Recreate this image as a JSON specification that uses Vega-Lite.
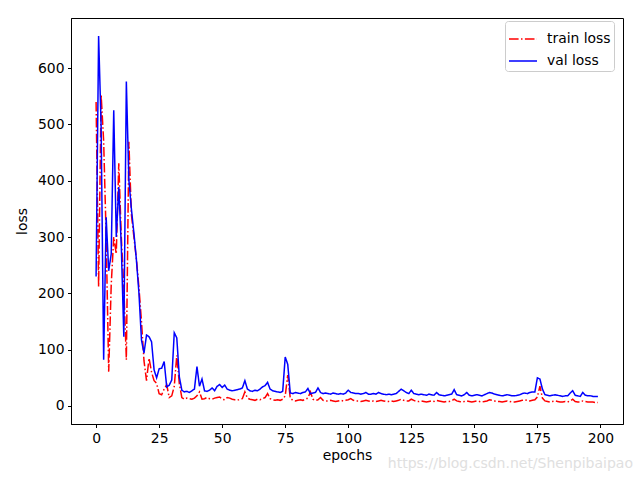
{
  "$schema": "https://vega.github.io/schema/vega-lite/v6.json",
  "width": 552,
  "height": 406,
  "autosize": {"type": "none"},
  "padding": {"left": 71, "top": 18, "right": 17, "bottom": 56},
  "background": "white",
  "title": {"text": "https://blog.csdn.net/Shenpibaipao", "orient": "bottom", "anchor": "end", "color": "#e0e0e0", "fontSize": 14, "font": "DejaVu Sans", "fontWeight": "normal", "offset": -6, "dx": 10},
  "config": {
    "font": "DejaVu Sans",
    "view": {"stroke": "black", "strokeWidth": 1},
    "axis": {"grid": false, "domainColor": "black", "tickColor": "black", "tickSize": 3.5, "labelPadding": 3.5, "labelFontSize": 13.9, "labelColor": "black", "titleFontSize": 13.9, "titleFontWeight": "normal", "titleColor": "black", "labelFont": "DejaVu Sans", "titleFont": "DejaVu Sans"},
    "legend": {"labelFontSize": 13.9, "labelFont": "DejaVu Sans", "labelColor": "black"}
  },
  "data": {"values": [
{"e":0,"train loss":540,"val loss":230},{"e":1,"train loss":212,"val loss":657},{"e":2,"train loss":553,"val loss":496},{"e":3,"train loss":470,"val loss":82},{"e":4,"train loss":300,"val loss":335},
{"e":5,"train loss":61,"val loss":240},{"e":6,"train loss":215,"val loss":270},{"e":7,"train loss":300,"val loss":525},{"e":8,"train loss":270,"val loss":300},{"e":9,"train loss":431,"val loss":389},
{"e":10,"train loss":300,"val loss":283},{"e":11,"train loss":210,"val loss":123},{"e":12,"train loss":82,"val loss":576},{"e":13,"train loss":469,"val loss":401},{"e":14,"train loss":340,"val loss":350},
{"e":15,"train loss":300,"val loss":307},{"e":16,"train loss":260,"val loss":259},{"e":17,"train loss":210,"val loss":200},{"e":18,"train loss":150,"val loss":117},{"e":19,"train loss":80,"val loss":94},
{"e":20,"train loss":45,"val loss":126},{"e":21,"train loss":85,"val loss":123},{"e":22,"train loss":60,"val loss":114},{"e":23,"train loss":45,"val loss":64},{"e":24,"train loss":40,"val loss":50},
{"e":25,"train loss":22,"val loss":66},{"e":26,"train loss":20,"val loss":67},{"e":27,"train loss":30,"val loss":79},{"e":28,"train loss":38,"val loss":34},{"e":29,"train loss":15,"val loss":37},
{"e":30,"train loss":18,"val loss":46},{"e":31,"train loss":35,"val loss":130},{"e":32,"train loss":90,"val loss":121},{"e":33,"train loss":40,"val loss":52},{"e":34,"train loss":15,"val loss":28},
{"e":35,"train loss":12,"val loss":25},{"e":36,"train loss":14,"val loss":26},{"e":37,"train loss":13,"val loss":24},{"e":38,"train loss":12,"val loss":27},{"e":39,"train loss":14,"val loss":30},
{"e":40,"train loss":18,"val loss":70},{"e":41,"train loss":25,"val loss":35},{"e":42,"train loss":12,"val loss":48},{"e":43,"train loss":13,"val loss":27},{"e":44,"train loss":15,"val loss":26},
{"e":45,"train loss":13,"val loss":28},{"e":46,"train loss":12,"val loss":32},{"e":47,"train loss":14,"val loss":27},{"e":48,"train loss":15,"val loss":35},{"e":49,"train loss":16,"val loss":38},
{"e":50,"train loss":12,"val loss":33},{"e":51,"train loss":11,"val loss":37},{"e":52,"train loss":15,"val loss":30},{"e":53,"train loss":14,"val loss":28},{"e":54,"train loss":12,"val loss":27},
{"e":55,"train loss":11,"val loss":28},{"e":56,"train loss":10,"val loss":29},{"e":57,"train loss":12,"val loss":30},{"e":58,"train loss":13,"val loss":32},{"e":59,"train loss":25,"val loss":45},
{"e":60,"train loss":14,"val loss":30},{"e":61,"train loss":12,"val loss":27},{"e":62,"train loss":11,"val loss":26},{"e":63,"train loss":10,"val loss":28},{"e":64,"train loss":12,"val loss":27},
{"e":65,"train loss":11,"val loss":30},{"e":66,"train loss":13,"val loss":34},{"e":67,"train loss":15,"val loss":36},{"e":68,"train loss":22,"val loss":42},{"e":69,"train loss":13,"val loss":30},
{"e":70,"train loss":11,"val loss":27},{"e":71,"train loss":10,"val loss":26},{"e":72,"train loss":11,"val loss":25},{"e":73,"train loss":10,"val loss":24},{"e":74,"train loss":12,"val loss":26},
{"e":75,"train loss":18,"val loss":87},{"e":76,"train loss":55,"val loss":74},{"e":77,"train loss":14,"val loss":23},{"e":78,"train loss":10,"val loss":22},{"e":79,"train loss":9,"val loss":24},
{"e":80,"train loss":10,"val loss":23},{"e":81,"train loss":11,"val loss":22},{"e":82,"train loss":10,"val loss":24},{"e":83,"train loss":12,"val loss":25},{"e":84,"train loss":14,"val loss":31},
{"e":85,"train loss":25,"val loss":22},{"e":86,"train loss":12,"val loss":23},{"e":87,"train loss":10,"val loss":24},{"e":88,"train loss":11,"val loss":32},{"e":89,"train loss":15,"val loss":24},
{"e":90,"train loss":10,"val loss":22},{"e":91,"train loss":9,"val loss":23},{"e":92,"train loss":9,"val loss":22},{"e":93,"train loss":10,"val loss":21},{"e":94,"train loss":9,"val loss":23},
{"e":95,"train loss":8,"val loss":22},{"e":96,"train loss":9,"val loss":21},{"e":97,"train loss":10,"val loss":22},{"e":98,"train loss":9,"val loss":21},{"e":99,"train loss":10,"val loss":23},
{"e":100,"train loss":11,"val loss":28},{"e":101,"train loss":13,"val loss":24},{"e":102,"train loss":10,"val loss":23},{"e":103,"train loss":9,"val loss":22},{"e":104,"train loss":9,"val loss":22},
{"e":105,"train loss":8,"val loss":21},{"e":106,"train loss":9,"val loss":22},{"e":107,"train loss":10,"val loss":24},{"e":108,"train loss":9,"val loss":21},{"e":109,"train loss":8,"val loss":21},
{"e":110,"train loss":9,"val loss":22},{"e":111,"train loss":8,"val loss":21},{"e":112,"train loss":9,"val loss":24},{"e":113,"train loss":10,"val loss":22},{"e":114,"train loss":9,"val loss":21},
{"e":115,"train loss":8,"val loss":20},{"e":116,"train loss":8,"val loss":21},{"e":117,"train loss":9,"val loss":20},{"e":118,"train loss":8,"val loss":21},{"e":119,"train loss":9,"val loss":22},
{"e":120,"train loss":10,"val loss":26},{"e":121,"train loss":12,"val loss":30},{"e":122,"train loss":10,"val loss":27},{"e":123,"train loss":9,"val loss":24},{"e":124,"train loss":9,"val loss":22},
{"e":125,"train loss":12,"val loss":28},{"e":126,"train loss":10,"val loss":22},{"e":127,"train loss":8,"val loss":21},{"e":128,"train loss":8,"val loss":20},{"e":129,"train loss":9,"val loss":21},
{"e":130,"train loss":8,"val loss":20},{"e":131,"train loss":7,"val loss":19},{"e":132,"train loss":8,"val loss":21},{"e":133,"train loss":9,"val loss":20},{"e":134,"train loss":8,"val loss":19},
{"e":135,"train loss":10,"val loss":24},{"e":136,"train loss":9,"val loss":20},{"e":137,"train loss":8,"val loss":19},{"e":138,"train loss":7,"val loss":18},{"e":139,"train loss":8,"val loss":19},
{"e":140,"train loss":8,"val loss":20},{"e":141,"train loss":9,"val loss":21},{"e":142,"train loss":12,"val loss":29},{"e":143,"train loss":9,"val loss":20},{"e":144,"train loss":8,"val loss":19},
{"e":145,"train loss":7,"val loss":18},{"e":146,"train loss":8,"val loss":20},{"e":147,"train loss":9,"val loss":24},{"e":148,"train loss":8,"val loss":19},{"e":149,"train loss":7,"val loss":18},
{"e":150,"train loss":8,"val loss":19},{"e":151,"train loss":9,"val loss":20},{"e":152,"train loss":8,"val loss":19},{"e":153,"train loss":7,"val loss":18},{"e":154,"train loss":8,"val loss":20},
{"e":155,"train loss":9,"val loss":22},{"e":156,"train loss":11,"val loss":24},{"e":157,"train loss":10,"val loss":23},{"e":158,"train loss":9,"val loss":21},{"e":159,"train loss":8,"val loss":20},
{"e":160,"train loss":8,"val loss":19},{"e":161,"train loss":7,"val loss":18},{"e":162,"train loss":8,"val loss":19},{"e":163,"train loss":9,"val loss":20},{"e":164,"train loss":8,"val loss":19},
{"e":165,"train loss":7,"val loss":18},{"e":166,"train loss":7,"val loss":18},{"e":167,"train loss":8,"val loss":19},{"e":168,"train loss":9,"val loss":20},{"e":169,"train loss":10,"val loss":22},
{"e":170,"train loss":11,"val loss":23},{"e":171,"train loss":10,"val loss":22},{"e":172,"train loss":9,"val loss":24},{"e":173,"train loss":10,"val loss":25},{"e":174,"train loss":11,"val loss":25},
{"e":175,"train loss":16,"val loss":50},{"e":176,"train loss":35,"val loss":48},{"e":177,"train loss":14,"val loss":30},{"e":178,"train loss":9,"val loss":20},{"e":179,"train loss":8,"val loss":19},
{"e":180,"train loss":7,"val loss":18},{"e":181,"train loss":8,"val loss":19},{"e":182,"train loss":9,"val loss":20},{"e":183,"train loss":8,"val loss":19},{"e":184,"train loss":7,"val loss":18},
{"e":185,"train loss":7,"val loss":17},{"e":186,"train loss":8,"val loss":18},{"e":187,"train loss":7,"val loss":18},{"e":188,"train loss":9,"val loss":23},{"e":189,"train loss":12,"val loss":27},
{"e":190,"train loss":8,"val loss":19},{"e":191,"train loss":7,"val loss":18},{"e":192,"train loss":7,"val loss":17},{"e":193,"train loss":9,"val loss":24},{"e":194,"train loss":8,"val loss":19},
{"e":195,"train loss":7,"val loss":18},{"e":196,"train loss":7,"val loss":18},{"e":197,"train loss":7,"val loss":17},{"e":198,"train loss":6,"val loss":17},{"e":199,"train loss":6,"val loss":17}
  ]},
  "transform": [{"fold": ["train loss", "val loss"], "as": ["series", "loss"]}],
  "mark": {"type": "line", "strokeWidth": 1.5, "clip": true},
  "encoding": {
    "x": {"field": "e", "type": "quantitative", "title": "epochs",
      "scale": {"domain": [-9.95, 208.95], "nice": false, "zero": false},
      "axis": {"values": [0, 25, 50, 75, 100, 125, 150, 175, 200], "titlePadding": 4}},
    "y": {"field": "loss", "type": "quantitative", "title": "loss",
      "scale": {"domain": [-32, 689], "nice": false, "zero": false},
      "axis": {"values": [0, 100, 200, 300, 400, 500, 600], "titlePadding": 8}},
    "color": {"field": "series", "type": "nominal", "title": null,
      "scale": {"domain": ["train loss", "val loss"], "range": ["#ff0000", "#0000ff"]},
      "legend": {"orient": "none", "legendX": 434, "legendY": 3, "padding": 3, "strokeColor": "#cccccc", "fillColor": "white", "cornerRadius": 3, "symbolType": "stroke", "symbolSize": 784, "symbolStrokeWidth": 1.5, "labelOffset": 9, "rowPadding": -7}},
    "strokeDash": {"field": "series", "type": "nominal", "title": null,
      "scale": {"domain": ["train loss", "val loss"], "range": [[9.6, 2.4, 1.5, 2.4], [1, 0]]},
      "legend": {"orient": "none", "legendX": 434, "legendY": 3, "padding": 3, "strokeColor": "#cccccc", "fillColor": "white", "cornerRadius": 3, "symbolType": "stroke", "symbolSize": 784, "symbolStrokeWidth": 1.5, "labelOffset": 9, "rowPadding": -7}}
  }
}
